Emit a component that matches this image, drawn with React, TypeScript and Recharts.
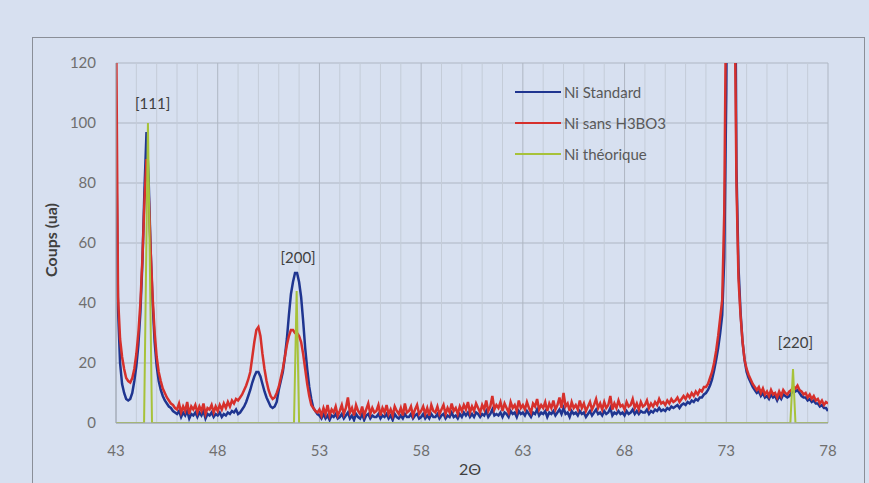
import {
  CartesianGrid,
  Line,
  LineChart,
  ReferenceDot,
  ReferenceLine,
  XAxis,
  YAxis,
} from "recharts";

const START_ANGLE = 43;
const STEP = 0.1;

// Ni sans H3BO3 (red), one row per degree, 43.0 -> 78.0
const SANS_H3BO3 = [
  140, 42, 28, 22, 18, 15, 14, 13.5, 15, 18,
  23, 30, 40, 55, 74, 88, 78, 58, 42, 30,
  22, 17, 14, 11.5, 10, 8.5, 7.5, 6.5, 6, 5,
  4.5, 6.5, 3.5, 5.5, 4, 7, 3, 5.5, 4.5, 6,
  3.5, 5.5, 4, 6.5, 3, 5, 4.5, 6, 3.5, 5.5,
  4, 6, 4.5, 6.5, 5, 7, 5.5, 7.5, 6.5, 8,
  7.5, 8.5, 9.5, 11, 12.5, 14.5, 17, 22, 27, 31,
  32, 29, 23, 18, 14, 11, 9, 8, 8.5, 10,
  12, 15, 18, 22, 26, 29, 31, 31, 30, 30,
  29, 27, 23, 18, 13, 9, 6, 5, 4, 3.5,
  4.5, 2.5, 5, 3, 6, 2.5, 4.5, 3.5, 5.5, 2.5,
  4, 6, 3, 5, 8.5, 3.5, 5, 2.5, 6, 4,
  3, 5.5, 2.5, 4.5, 6.5, 3, 5, 3.5, 4, 6,
  2.5, 5, 3.5, 6, 3, 4.5, 2.5, 5.5, 4, 3,
  5, 2.5, 6.5, 3.5, 4, 5.5, 2.5, 4.5, 6, 3,
  4, 5.5, 3, 5, 2.5, 6, 4, 3.5, 5.5, 3,
  4.5, 6, 3, 5, 3.5, 6.5, 4, 5, 3, 5.5,
  4, 6, 4.5, 7, 3.5, 5.5, 4, 6.5, 5, 3.5,
  6, 4.5, 7.5, 4, 5.5, 9, 4.5, 6, 5, 7,
  4, 6.5, 5, 3.5, 7, 5, 6, 4, 7.5, 5,
  6, 4.5, 7, 5, 3.5, 6.5, 5.5, 8, 4.5, 6,
  5, 7, 4, 6.5, 5, 7.5, 4.5, 6, 8.5, 5,
  10, 5.5, 6.5, 4, 7, 5, 6, 4.5, 7.5, 5,
  6.5, 4, 5.5, 7, 4.5, 6, 8, 5, 6.5, 4.5,
  7, 5, 6, 9, 4.5, 6.5, 5, 7.5, 5.5, 6,
  4.5, 7, 5.5, 6, 8, 5, 6.5, 4.5, 7, 5.5,
  6, 7.5, 5, 6.5, 5.5, 7, 6, 8, 6.5, 7,
  6, 7.5, 6.5, 8, 7, 7.5, 8.5, 7, 8, 9,
  8, 9.5, 8.5, 10, 9, 10.5, 9.5, 11, 10.5, 12,
  12, 13, 15, 17, 20, 24, 29, 35, 41, 70,
  150, 280, 380, 290, 150, 80, 48, 36, 27, 21,
  18, 16, 14.5, 13, 12, 11, 12, 10, 11.5, 9.5,
  10.5, 9, 11, 9.5, 10, 8.5, 10.5, 9, 11, 10,
  9.5, 10.5, 11, 12, 11.5, 12.5, 11, 10.5, 9.5, 10,
  8.5, 9.5, 8, 9, 7.5, 8, 6.5, 7.5, 6, 7,
  6.5,
];

// Ni Standard (blue)
const STANDARD = [
  100, 38, 20, 13, 10, 8, 7.5, 8, 10, 14,
  19, 26, 37, 54, 78, 97, 82, 58, 40, 27,
  19, 14, 11, 9, 7.5, 6.5, 5.5, 5, 4, 3.5,
  3, 4, 2, 3.5, 2.5, 4, 1.5, 3, 2.5, 3.5,
  2, 3.5, 2.5, 4, 1.5, 3, 2.5, 3.5, 2, 3,
  2.5, 3.5, 2, 3, 2.5, 3.5, 3, 4, 3.5, 4.5,
  3, 3.5, 4.5, 5.5, 7, 9, 11, 13.5, 15.5, 17,
  17, 15.5, 13, 10.5, 8.5, 7, 5.5, 5, 5.5, 7,
  11, 14, 17, 22, 28, 36, 43, 47, 50, 50,
  47, 42, 34, 25, 18, 12, 8, 5, 4, 3,
  2.5, 1.5, 3, 1.5, 2.5, 1, 2.5, 2, 3, 1.5,
  2, 3, 1.5, 2.5, 3.5, 1.5, 2.5, 1, 3, 2,
  1.5, 3, 1, 2.5, 3, 1.5, 2.5, 2, 2, 3,
  1.5, 2.5, 2, 3, 1.5, 2.5, 1, 3, 2, 1.5,
  2.5, 1.5, 3, 2, 2, 3, 1.5, 2.5, 3, 1.5,
  2, 3, 1.5, 2.5, 1.5, 3, 2, 2, 3, 1.5,
  2.5, 3, 1.5, 2.5, 2, 3.5, 2, 2.5, 1.5, 3,
  2, 3.5, 2.5, 3.5, 2, 3, 2, 3.5, 3, 2,
  3, 2.5, 4, 2, 3, 4.5, 2.5, 3, 2.5, 3.5,
  2, 3.5, 3, 2, 4, 3, 3.5, 2, 4, 3,
  3.5, 2.5, 4, 3, 2, 3.5, 3, 4.5, 2.5, 3.5,
  3, 4, 2, 3.5, 3, 4, 2.5, 3.5, 4.5, 3,
  5, 3, 3.5, 2, 4, 3, 3.5, 2.5, 4, 3,
  3.5, 2, 3, 4, 2.5, 3.5, 4.5, 3, 3.5, 2.5,
  4, 3, 3.5, 5, 2.5, 3.5, 3, 4, 3, 3.5,
  2.5, 4, 3, 3.5, 4.5, 3, 4, 3, 4, 3.5,
  3.5, 4.5, 3, 4, 3.5, 4.5, 4, 5, 4, 4.5,
  4, 5, 4.5, 5.5, 5, 5.5, 6, 5, 6, 6.5,
  6, 7, 6.5, 7.5, 7, 8, 7.5, 8.5, 8.5, 9.5,
  10, 11, 12.5, 14.5, 17.5, 21, 25, 30, 36, 55,
  110, 220, 360, 330, 200, 85, 52, 37, 27, 21,
  17, 15, 13.5, 12, 11, 10, 10.5, 9, 10, 8.5,
  9, 8, 9.5, 8.5, 9, 7.5, 9, 8, 9.5, 9,
  8.5, 9, 10, 11, 10.5, 11, 10, 9, 8.5, 8.5,
  7.5, 8, 7, 7.5, 6.5, 6.5, 5.5, 6, 5, 5,
  4,
];

// Ni théorique (green sticks)
const THEO_ANGLES = [43, 44.38, 44.57, 44.77, 51.75, 51.88, 52.0, 76.15, 76.28, 76.4, 78];
const THEO_VALUES = [0, 0, 100, 0, 0, 44, 0, 0, 18, 0, 0];

const X_TICKS = [43, 48, 53, 58, 63, 68, 73, 78];
const X_MINOR = [
  44, 45, 46, 47, 49, 50, 51, 52, 54, 55, 56, 57, 59, 60, 61, 62, 64, 65,
  66, 67, 69, 70, 71, 72, 74, 75, 76, 77,
];
const Y_TICKS = [0, 20, 40, 60, 80, 100, 120];

const PEAK_LABELS = [
  { text: "[111]", x: 44.8, y: 106.5 },
  { text: "[200]", x: 51.95, y: 55 },
  { text: "[220]", x: 76.4, y: 26.7 },
];

const SERIES = [
  { name: "Ni Standard", color: "#1f3590" },
  { name: "Ni sans H3BO3", color: "#d6302c" },
  { name: "Ni théorique", color: "#a7c23a" },
];

const data = STANDARD.map((v, i) => ({
  angle: Math.round((START_ANGLE + i * STEP) * 10) / 10,
  standard: v,
  sans: SANS_H3BO3[i],
}));

const theoData = THEO_ANGLES.map((a, i) => ({ angle: a, theo: THEO_VALUES[i] }));

const FONT = "Lato, 'Open Sans', sans-serif";

function LegendBox() {
  return (
    <div
      style={{
        position: "absolute",
        left: 515,
        top: 76,
        fontFamily: FONT,
        fontSize: 15,
        color: "#595959",
      }}
    >
      {SERIES.map((s) => (
        <div key={s.name} style={{ display: "flex", alignItems: "center", height: 31 }}>
          <div style={{ width: 46, height: 2, background: s.color, marginRight: 3 }} />
          <span>{s.name}</span>
        </div>
      ))}
    </div>
  );
}

export default function App() {
  return (
    <div
      style={{
        position: "fixed",
        left: 0,
        top: 0,
        width: 869,
        height: 483,
        background: "#d7e0f0",
        overflow: "hidden",
      }}
    >
      <div
        style={{
          position: "absolute",
          left: 32,
          top: 37,
          width: 831,
          height: 470,
          border: "1.5px solid #8a8f98",
        }}
      />
      <div
        style={{
          position: "absolute",
          left: 50,
          top: 240,
          transform: "translate(-50%, -50%) rotate(-90deg)",
          fontFamily: FONT,
          fontWeight: 700,
          fontSize: 16,
          color: "#404040",
          whiteSpace: "nowrap",
        }}
      >
        Coups (ua)
      </div>
      <div
        style={{
          position: "absolute",
          left: 470,
          top: 468,
          transform: "translate(-50%, -50%)",
          fontFamily: FONT,
          fontSize: 16,
          color: "#404040",
        }}
      >
        2Θ
      </div>
      <LineChart
        width={869}
        height={483}
        data={data}
        margin={{ top: 63, right: 41, left: 0, bottom: 0 }}
        style={{ position: "absolute", left: 0, top: 0 }}
      >
        <CartesianGrid stroke="#aeb6c3" strokeWidth={1} />
        {X_MINOR.map((v) => (
          <ReferenceLine key={v} x={v} stroke="#c4ccd8" strokeWidth={1} />
        ))}
        <XAxis
          dataKey="angle"
          type="number"
          domain={[43, 78]}
          ticks={X_TICKS}
          allowDataOverflow
          height={60}
          tickLine={false}
          axisLine={{ stroke: "#a0a8b4" }}
          tick={{ fontSize: 15, fill: "#6f6f6f", fontFamily: FONT }}
          tickMargin={16}
        />
        <YAxis
          type="number"
          domain={[0, 120]}
          ticks={Y_TICKS}
          allowDataOverflow
          width={116}
          tickLine={false}
          axisLine={{ stroke: "#a0a8b4" }}
          tick={{ fontSize: 15, fill: "#6f6f6f", fontFamily: FONT }}
          tickMargin={14}
        />
        <Line
          dataKey="standard"
          name="Ni Standard"
          stroke={SERIES[0].color}
          strokeWidth={2.5}
          dot={false}
          isAnimationActive={false}
        />
        <Line
          dataKey="sans"
          name="Ni sans H3BO3"
          stroke={SERIES[1].color}
          strokeWidth={2.5}
          dot={false}
          isAnimationActive={false}
        />
        <Line
          data={theoData}
          dataKey="theo"
          name="Ni théorique"
          stroke={SERIES[2].color}
          strokeWidth={2}
          dot={false}
          isAnimationActive={false}
        />
        {PEAK_LABELS.map((p) => (
          <ReferenceDot
            key={p.text}
            x={p.x}
            y={p.y}
            r={0}
            fill="none"
            stroke="none"
            label={{ value: p.text, position: "center", fontSize: 15, fill: "#404040", fontFamily: FONT }}
          />
        ))}
      </LineChart>
      <LegendBox />
    </div>
  );
}
